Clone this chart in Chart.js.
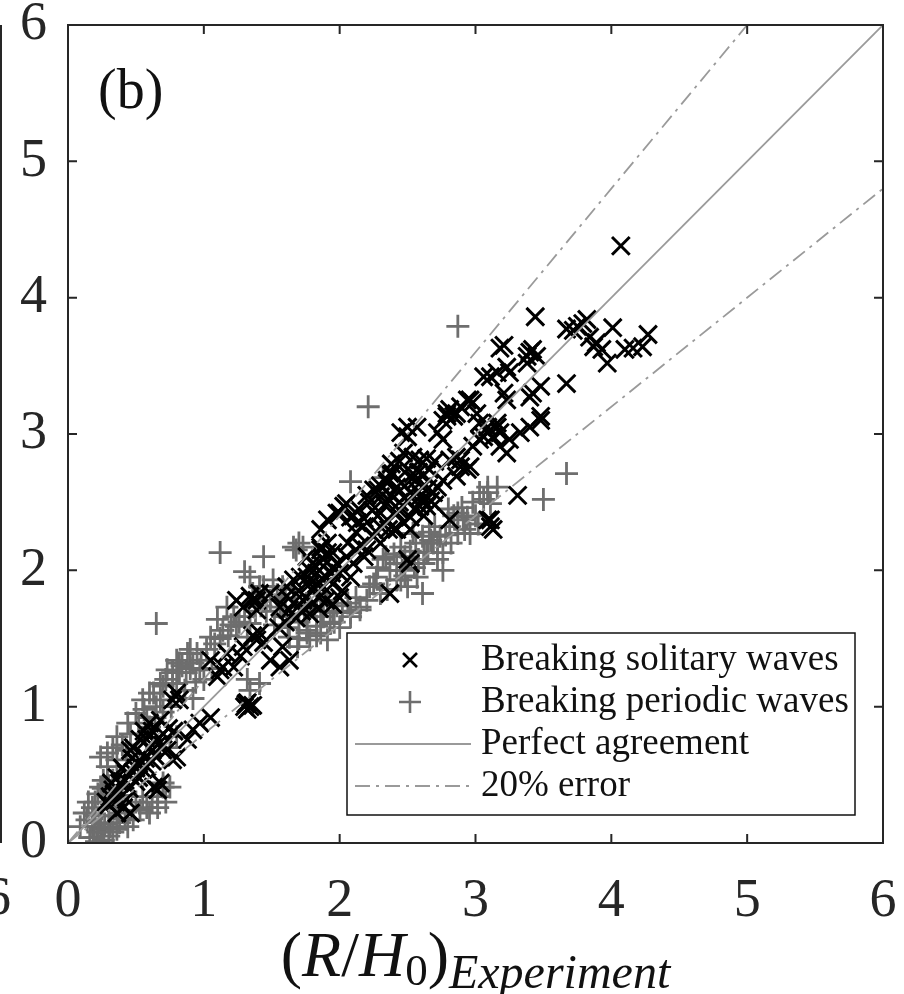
<!DOCTYPE html>
<html>
<head>
<meta charset="utf-8">
<script src="https://cdn.jsdelivr.net/npm/chart.js@4.4.0/dist/chart.umd.min.js"></script>
<style>
  html, body { margin: 0; padding: 0; background: #fff; }
  #wrap { width: 904px; height: 994px; }
</style>
</head>
<body>
<div id="wrap"><canvas id="runupChart" width="904" height="994"></canvas></div>
<script>
// Axis ticks (same on both axes)
const tickValues = [0, 1, 2, 3, 4, 5, 6];

// Breaking solitary waves: [experiment, model]
const solitaryWaves = [
  [4.07,4.38],[3.44,3.86],[3.18,3.63],[3.21,3.65],[3.40,3.60],[3.45,3.57],[3.38,3.57],[3.38,3.52],[3.42,3.62],
  [3.67,3.77],[3.72,3.76],[3.75,3.79],[3.79,3.81],[3.82,3.84],[3.84,3.71],[3.89,3.67],[3.87,3.64],
  [4.01,3.78],[3.97,3.52],[3.93,3.62],[4.10,3.62],[4.16,3.63],[4.23,3.64],[4.27,3.73],[3.67,3.37],
  [3.06,3.42],[3.16,3.45],[3.23,3.49],[3.25,3.45],[3.11,3.42],
  [3.48,3.35],[3.42,3.30],[3.40,3.27],[3.21,3.30],[3.23,3.25],
  [2.94,3.25],[2.89,3.20],[2.84,3.13],[2.96,3.25],[2.98,3.23],
  [3.01,3.15],[3.09,3.05],[3.16,3.08],[3.18,3.01],[3.06,2.98],[3.25,2.96],
  [3.48,3.10],[3.40,3.05],[3.33,3.01],[3.48,3.13],
  [2.81,2.81],[2.89,2.76],[2.86,2.69],[2.94,2.74],[2.89,2.81],
  [3.31,2.55],[3.11,2.37],[3.11,2.32],[3.09,2.37],[3.13,2.30],[2.81,2.37],
  [2.79,3.13],[2.81,3.18],[2.79,3.15],[2.86,3.15],[2.76,3.10],
  [2.57,3.05],[2.50,2.98],[2.50,3.05],[2.45,3.01],
  [2.54,2.83],[2.59,2.81],[2.39,2.71],[2.35,2.66],[2.37,2.71],
  [2.72,3.01],[2.76,2.96],[2.96,2.76],[2.86,2.83],
  [3.03,3.08],[3.13,2.98],[3.03,2.96],[3.09,3.01],[2.98,2.91],[3.16,3.05],
  [3.18,2.91],[3.23,2.86],
  [2.76,2.66],[2.72,2.61],[2.61,2.52],[2.64,2.47],[2.52,2.39],[2.47,2.35],[2.42,2.30],
  [2.54,2.71],[2.61,2.61],[2.69,2.57],[2.42,2.61],[2.37,2.51],[2.50,2.51],[2.59,2.47],[2.67,2.51],
  [2.30,2.32],[2.35,2.37],[2.42,2.42],[2.52,2.30],[2.47,2.86],
  [2.25,2.59],[2.20,2.55],[2.30,2.54],[2.28,2.59],[2.35,2.64],
  [2.05,2.49],[2.00,2.42],[2.08,2.39],[2.03,2.47],[1.98,2.42],[1.91,2.37],[1.86,2.30],
  [2.13,2.35],[2.17,2.32],
  [1.91,2.20],[1.86,2.15],[1.95,2.13],[1.86,2.17],[1.76,2.10],[1.91,2.13],
  [1.80,2.05],[1.78,2.00],[1.88,2.03],
  [1.71,1.95],[1.66,1.93],[1.61,1.88],
  [1.49,1.83],[1.41,1.83],[1.36,1.78],[1.39,1.71],
  [2.52,2.57],[2.60,2.55],[2.65,2.60],[2.55,2.45],[2.62,2.40],[2.70,2.48],[2.40,2.30],
  [2.30,2.20],[2.25,2.25],[2.20,2.15],[2.15,2.18],[2.10,2.05],[2.05,2.10],[2.00,1.98],[1.95,1.90],
  [1.90,1.95],[2.02,1.85],[1.85,1.80],[1.80,1.85],
  [2.06,2.20],[2.12,2.28],[2.18,2.38],[2.24,2.44],[2.28,2.40],[2.33,2.48],[2.38,2.55],[2.44,2.50],
  [2.48,2.62],[2.56,2.66],[2.62,2.70],[2.66,2.74],[2.70,2.80],[2.58,2.58],[2.44,2.44],[2.36,2.30],
  [2.27,2.28],[2.18,2.10],[2.12,2.15],[2.08,1.95],[1.98,2.05],[1.94,1.98],[1.88,1.88],[1.83,1.90],
  [1.78,1.90],[1.73,1.78],[1.66,1.76],[2.58,2.72],[2.64,2.82],[2.48,2.72],[2.44,2.80],[2.38,2.78],
  [2.30,2.62],[2.22,2.50],[2.14,2.45],[2.10,2.40],
  [2.52,2.05],[2.37,1.83],[2.50,2.08],
  [1.24,1.78],[1.34,1.81],[1.29,1.73],[1.39,1.78],
  [1.61,1.81],[1.56,1.73],[1.63,1.71],[1.69,1.73],
  [1.76,1.95],[1.83,1.98],[1.88,2.08],[1.95,2.02],
  [1.70,1.85],[1.75,1.80],[1.80,1.76],[1.85,1.72],[1.72,1.70],[1.78,1.68],[1.90,1.78],[1.95,1.75],[2.00,1.80],[1.68,1.65],[1.60,1.62],[1.55,1.58],
  [1.41,1.54],[1.39,1.49],[1.36,1.52],[1.44,1.47],
  [1.58,1.44],[1.63,1.34],[1.56,1.29],[1.49,1.34],
  [1.29,1.44],[1.27,1.37],[1.22,1.29],[1.17,1.39],
  [1.05,1.34],[1.10,1.22],[1.14,1.29],[1.12,1.27],
  [0.80,1.10],[0.82,1.05],[0.77,1.05],
  [1.34,1.00],[1.32,1.03],[1.30,1.00],[1.32,0.98],[1.36,1.01],[1.31,1.02],
  [0.73,0.68],[0.80,0.63],[0.88,0.76],[0.92,0.83],[0.97,0.88],[1.05,0.92],[0.77,0.61],
  [0.60,0.88],[0.68,0.90],[0.53,0.76],[0.48,0.70],[0.46,0.68],[0.58,0.76],
  [0.38,0.44],[0.33,0.39],[0.31,0.34],[0.43,0.32],[0.41,0.26],[0.36,0.22],[0.46,0.22],
  [0.63,0.41],[0.66,0.39],[0.68,0.44],[0.55,0.54],[0.51,0.59],[0.43,0.51],
  [0.40,0.45],[0.45,0.50],[0.50,0.55],[0.55,0.65],[0.60,0.70],[0.65,0.75],[0.70,0.80],[0.62,0.60],[0.50,0.45],[0.35,0.30],[0.30,0.28],[0.45,0.40],
  [0.28,0.30],[0.34,0.36],[0.38,0.38],[0.42,0.46],[0.48,0.52],[0.52,0.58],[0.57,0.62],[0.62,0.68],
  [0.66,0.72],[0.47,0.62],[0.40,0.55],[0.36,0.48],[0.32,0.44],[0.52,0.48],[0.58,0.56],[0.64,0.64],
  [0.70,0.72],[0.74,0.84],[0.78,0.82],[0.56,0.82],[0.62,0.82]
];

// Breaking periodic waves: [experiment, model]
const periodicWaves = [
  [0.65,1.61],[1.12,2.13],[1.44,2.10],[1.30,1.99],[1.70,2.20],[1.68,2.15],[2.21,3.20],[2.87,3.79],[3.67,2.71],[3.50,2.52],[2.08,2.65],[1.73,2.17],[2.32,2.68],[1.66,2.17],
  [3.09,2.61],[3.03,2.57],[3.06,2.52],[3.11,2.49],[3.16,2.61],[3.09,2.57],
  [2.87,2.42],[2.91,2.37],[2.81,2.32],[2.96,2.27],[2.94,2.39],
  [2.54,2.27],[2.67,2.22],[2.45,2.17],[2.62,2.13],
  [2.74,2.25],[2.87,2.27],[2.72,2.20],[2.76,2.13],[2.65,2.13],[2.56,2.20],[2.48,2.10],[2.62,2.05],[2.42,2.05],
  [2.45,1.93],[2.35,1.86],[2.20,1.78],[2.15,1.71],[2.08,1.66],
  [1.76,1.54],[1.83,1.52],[1.91,1.49],
  [2.61,2.25],[2.69,2.20],[2.64,2.13],[2.72,2.08],[2.76,2.00],[2.57,1.95],[2.50,1.88],[2.61,1.83],
  [2.32,2.08],[2.37,2.00],[2.27,1.95],[2.42,1.93],[2.22,1.88],[2.30,1.83],[2.15,1.73],[2.08,1.69],
  [2.25,1.90],[2.28,2.02],[2.34,2.10],[2.40,2.12],[2.46,2.00],[2.52,2.14],[2.58,2.08],[2.66,2.28],
  [2.70,2.32],[2.78,2.26],[2.82,2.20],[2.84,2.40],[2.90,2.46],[2.98,2.50],[3.00,2.40],[3.02,2.34],
  [2.92,2.30],[2.80,2.45],[2.55,2.02],[2.48,1.96],
  [1.83,1.83],[1.91,1.78],[1.78,1.73],[1.95,1.69],
  [1.52,1.60],[1.58,1.66],[1.62,1.58],[1.70,1.62],[1.74,1.68],[1.86,1.70],[1.98,1.74],[2.02,1.70],
  [2.06,1.76],[2.12,1.80],[1.96,1.62],[2.00,1.58],[1.86,1.54],[1.70,1.50],[1.60,1.80],[1.66,1.86],[1.54,1.82],
  [1.34,1.95],[1.41,1.88],[1.36,1.83],[1.49,1.78],[1.56,1.73],
  [1.51,1.93],[1.58,1.88],[1.44,1.88],
  [1.17,1.73],[1.22,1.66],[1.10,1.64],[1.05,1.51],[1.14,1.56],[1.24,1.59],[1.34,1.61],[1.32,1.51],
  [0.90,1.42],[0.95,1.39],[0.82,1.32],[0.77,1.25],[0.87,1.25],[0.97,1.27],[0.70,1.15],[0.80,1.17],[0.60,1.10],[0.68,1.05],
  [0.72,1.20],[0.84,1.30],[0.90,1.28],[0.98,1.34],[1.02,1.42],[1.08,1.46],[1.12,1.50],[1.18,1.52],
  [1.20,1.60],[1.26,1.62],[1.30,1.66],[1.38,1.70],[1.42,1.74],[1.46,1.70],[1.00,1.20],[0.94,1.18],
  [1.06,1.28],[0.86,1.12],[0.92,1.06],[0.76,1.00],[0.70,0.96],[0.64,0.92],[0.56,0.98],[0.46,0.80],[0.40,0.72],
  [1.76,1.56],[1.83,1.59],[1.88,1.66],[1.93,1.61],[1.78,1.49],[1.69,1.44],[1.63,1.51],
  [1.41,1.17],[1.32,1.20],[1.34,1.12],
  [0.80,1.34],[0.88,1.39],[0.92,1.32],[0.73,1.27],[0.82,1.25],[0.68,1.17],[0.63,1.10],[0.77,1.17],
  [0.43,0.68],[0.36,0.61],[0.29,0.56],[0.26,0.46],[0.33,0.46],[0.24,0.41],
  [0.70,0.41],[0.75,0.41],[0.66,0.34],[0.58,0.26],[0.53,0.24],[0.60,0.22],[0.48,0.17],
  [0.14,0.17],[0.18,0.12],[0.24,0.10],[0.16,0.04],[0.26,0.02],[0.21,0.01],[0.31,0.12],[0.09,0.12],[0.38,0.15],
  [0.12,0.22],[0.15,0.30],[0.18,0.26],[0.22,0.36],[0.26,0.40],[0.30,0.42],[0.34,0.25],[0.38,0.22],
  [0.42,0.18],[0.27,0.14],[0.33,0.08],[0.19,0.04],[0.23,0.15],[0.36,0.10],[0.44,0.12],[0.50,0.30],
  [0.55,0.34],[0.62,0.30],[0.66,0.26],[0.72,0.30],
  [0.55,1.05],[0.65,1.00],[0.50,0.95],[0.58,0.92],[0.44,0.88],[0.52,0.88],[0.60,0.85],
  [0.36,0.78],[0.33,0.70],[0.29,0.66],[0.24,0.63],
  [0.20,0.30],[0.25,0.25],[0.30,0.20],[0.35,0.30],[0.40,0.35],[0.20,0.20],[0.28,0.35],[0.22,0.08],[0.30,0.05],
  [0.70,0.44],[0.75,0.70],[0.80,0.78]
];

// Reference lines
const perfectLine = [[0, 0], [6, 6]];
const upperErrorLine = [[0, 0], [5, 6]];
const lowerErrorLine = [[0, 0], [6, 4.8]];

const legendLabels = ['Breaking solitary waves', 'Breaking periodic waves', 'Perfect agreement', '20% error'];

const toPoints = arr => arr.map(p => ({ x: p[0], y: p[1] }));

const SERIF = "'Liberation Serif', 'DejaVu Serif', serif";
const AXIS_COLOR = '#262626';
const LINE_GRAY = '#9a9a9a';
const PLUS_GRAY = '#6e6e6e';
const DASH_DOT = [15, 6, 3, 6];

// Draws frame, inward ticks, panel letter, axis title and legend box
const decorPlugin = {
  id: 'decor',
  afterDraw(chart) {
    const ctx = chart.ctx;
    const a = chart.chartArea;
    const xs = chart.scales.x;
    const ys = chart.scales.y;
    const tickLen = 9;

    ctx.save();
    ctx.strokeStyle = AXIS_COLOR;
    ctx.lineWidth = 2;
    ctx.strokeRect(a.left, a.top, a.right - a.left, a.bottom - a.top);

    ctx.beginPath();
    tickValues.forEach(v => {
      const px = xs.getPixelForValue(v);
      ctx.moveTo(px, a.bottom); ctx.lineTo(px, a.bottom - tickLen);
      ctx.moveTo(px, a.top); ctx.lineTo(px, a.top + tickLen);
      const py = ys.getPixelForValue(v);
      ctx.moveTo(a.left, py); ctx.lineTo(a.left + tickLen, py);
      ctx.moveTo(a.right, py); ctx.lineTo(a.right - tickLen, py);
    });
    ctx.stroke();

    // fragments of the neighbouring panel at the left edge
    ctx.beginPath();
    ctx.moveTo(1, a.top);
    ctx.lineTo(1, a.bottom);
    ctx.stroke();
    ctx.fillStyle = AXIS_COLOR;
    ctx.font = '54px ' + SERIF;
    ctx.textAlign = 'right';
    ctx.textBaseline = 'alphabetic';
    ctx.fillText('6', 11, 914);

    // panel letter
    ctx.textAlign = 'left';
    ctx.font = '56px ' + SERIF;
    ctx.fillStyle = '#111';
    ctx.fillText('(b)', 98, 108);

    // x axis title: (R/H_0)_{Experiment}
    const parts = [
      { t: '(', f: '64px ' + SERIF, dy: 0 },
      { t: 'R', f: 'italic 64px ' + SERIF, dy: 0 },
      { t: '/', f: '64px ' + SERIF, dy: 0 },
      { t: 'H', f: 'italic 64px ' + SERIF, dy: 0 },
      { t: '0', f: '45px ' + SERIF, dy: 9 },
      { t: ')', f: '64px ' + SERIF, dy: 0 },
      { t: 'Experiment', f: 'italic 48px ' + SERIF, dy: 12 }
    ];
    let total = 0;
    parts.forEach(p => { ctx.font = p.f; p.w = ctx.measureText(p.t).width; total += p.w; });
    let cx = (a.left + a.right) / 2 - total / 2;
    const base = 976;
    parts.forEach(p => {
      ctx.font = p.f;
      ctx.fillText(p.t, cx, base + p.dy);
      cx += p.w;
    });

    // legend
    const lg = { left: 347, top: 633, right: 855, bottom: 815 };
    ctx.fillStyle = '#fff';
    ctx.fillRect(lg.left, lg.top, lg.right - lg.left, lg.bottom - lg.top);
    ctx.strokeStyle = '#111';
    ctx.lineWidth = 1.5;
    ctx.strokeRect(lg.left, lg.top, lg.right - lg.left, lg.bottom - lg.top);

    const rowY = [660, 702, 744, 786];
    const mx = 410;
    // x marker
    ctx.strokeStyle = '#000';
    ctx.lineWidth = 2.6;
    ctx.beginPath();
    ctx.moveTo(mx - 7, rowY[0] - 7); ctx.lineTo(mx + 7, rowY[0] + 7);
    ctx.moveTo(mx - 7, rowY[0] + 7); ctx.lineTo(mx + 7, rowY[0] - 7);
    ctx.stroke();
    // + marker
    ctx.strokeStyle = PLUS_GRAY;
    ctx.beginPath();
    ctx.moveTo(mx - 11, rowY[1]); ctx.lineTo(mx + 11, rowY[1]);
    ctx.moveTo(mx, rowY[1] - 11); ctx.lineTo(mx, rowY[1] + 11);
    ctx.stroke();
    // line samples
    ctx.strokeStyle = LINE_GRAY;
    ctx.lineWidth = 1.8;
    ctx.beginPath();
    ctx.moveTo(355, rowY[2]); ctx.lineTo(471, rowY[2]);
    ctx.stroke();
    ctx.setLineDash(DASH_DOT);
    ctx.beginPath();
    ctx.moveTo(355, rowY[3]); ctx.lineTo(471, rowY[3]);
    ctx.stroke();
    ctx.setLineDash([]);

    ctx.fillStyle = '#111';
    ctx.font = '37px ' + SERIF;
    ctx.textBaseline = 'middle';
    legendLabels.forEach((lab, i) => ctx.fillText(lab, 481, rowY[i]));
    ctx.restore();
  }
};

const canvas = document.getElementById('runupChart');
const chart = new Chart(canvas.getContext('2d'), {
  type: 'scatter',
  data: {
    datasets: [
      {
        type: 'line', label: 'Perfect agreement', data: toPoints(perfectLine),
        borderColor: LINE_GRAY, borderWidth: 1.8, pointRadius: 0, fill: false, order: 0
      },
      {
        type: 'line', label: '20% error', data: toPoints(upperErrorLine),
        borderColor: LINE_GRAY, borderWidth: 1.8, borderDash: DASH_DOT, pointRadius: 0, fill: false, order: 0
      },
      {
        type: 'line', label: '20% error (lower)', data: toPoints(lowerErrorLine),
        borderColor: LINE_GRAY, borderWidth: 1.8, borderDash: DASH_DOT, pointRadius: 0, fill: false, order: 0
      },
      {
        label: 'Breaking solitary waves', data: toPoints(solitaryWaves),
        pointStyle: 'crossRot', pointRadius: 12.5, borderWidth: 3,
        borderColor: '#000', backgroundColor: '#000', order: 1
      },
      {
        label: 'Breaking periodic waves', data: toPoints(periodicWaves),
        pointStyle: 'cross', pointRadius: 11.5, borderWidth: 2.8,
        borderColor: PLUS_GRAY, backgroundColor: PLUS_GRAY, order: 2
      }
    ]
  },
  options: {
    responsive: false,
    animation: false,
    events: [],
    layout: { padding: { left: 0, right: 21, top: 25, bottom: 0 } },
    plugins: { legend: { display: false }, tooltip: { enabled: false } },
    scales: {
      x: {
        type: 'linear', min: 0, max: 6, position: 'bottom',
        afterBuildTicks: s => { s.ticks = tickValues.map(v => ({ value: v })); },
        afterFit: s => { s.height = 151; s.paddingLeft = 0; s.paddingRight = 0; },
        grid: { display: false, drawTicks: false },
        border: { display: false },
        ticks: { font: { family: SERIF, size: 54 }, color: AXIS_COLOR, padding: 26, maxRotation: 0 }
      },
      y: {
        type: 'linear', min: 0, max: 6,
        afterBuildTicks: s => { s.ticks = tickValues.map(v => ({ value: v })); },
        afterFit: s => { s.width = 68; s.paddingTop = 0; s.paddingBottom = 0; },
        grid: { display: false, drawTicks: false },
        border: { display: false },
        ticks: { font: { family: SERIF, size: 54 }, color: AXIS_COLOR, padding: 21 }
      }
    }
  },
  plugins: [decorPlugin]
});
</script>
</body>
</html>
